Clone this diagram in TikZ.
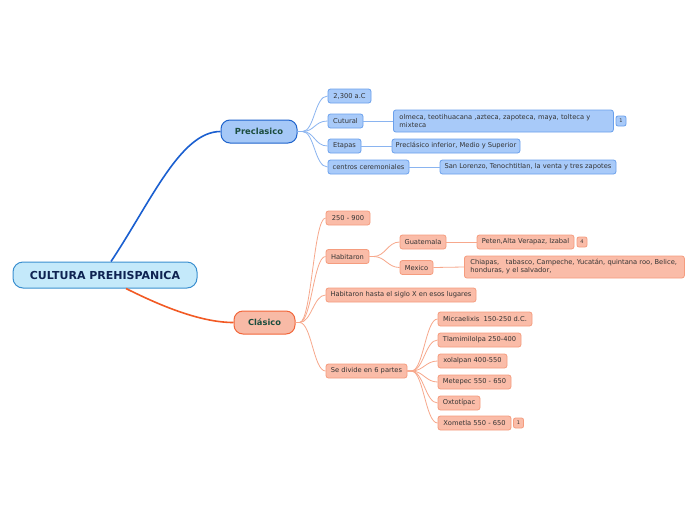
\documentclass[tikz,border=0pt]{standalone}
\usepackage{fontspec}
\setmainfont{DejaVu Sans}
\definecolor{rootfill}{HTML}{C4E9FA}
\definecolor{rootdraw}{HTML}{3A8FCF}
\definecolor{roottext}{HTML}{0F2352}
\definecolor{prefill}{HTML}{A5C8F7}
\definecolor{predraw}{HTML}{1E63CC}
\definecolor{bmain}{HTML}{1A5FD0}
\definecolor{bfill}{HTML}{A8CAF9}
\definecolor{bdraw}{HTML}{6AA0EC}
\definecolor{bline}{HTML}{8AB4F0}
\definecolor{clafill}{HTML}{F8BAA6}
\definecolor{cladraw}{HTML}{F2663A}
\definecolor{omain}{HTML}{F25A24}
\definecolor{ofill}{HTML}{FABCA8}
\definecolor{odraw}{HTML}{F59C7E}
\definecolor{oline}{HTML}{F7A88C}
\definecolor{txt}{HTML}{333333}
\definecolor{maintxt}{HTML}{1B4D3E}
\begin{document}
\begin{tikzpicture}[x=1pt,y=-1pt,
  box/.style={draw, rounded corners=2.5pt, line width=0.8pt, inner sep=0pt,
    font=\fontsize{6.7}{8}\selectfont, text=txt, minimum height=14pt},
  bbox/.style={box, fill=bfill, draw=bdraw},
  obox/.style={box, fill=ofill, draw=odraw},
  badge/.style={minimum width=10pt, minimum height=10pt, rounded corners=2pt,
    font=\fontsize{5}{5}\selectfont},
  ml/.style={anchor=west, align=left, inner xsep=6pt, minimum height=22pt},
  bl/.style={draw=bline, line width=0.8pt},
  ol/.style={draw=oline, line width=0.8pt},
  mainbox/.style={draw, line width=1pt, inner sep=0pt, text=maintxt,
    font=\fontsize{8.4}{10}\bfseries, rounded corners=9pt, minimum height=23pt}
]
\useasboundingbox[fill=white] (0,0) rectangle (696,520);

% root and main nodes
\node[draw=rootdraw, fill=rootfill, line width=1pt, rounded corners=10pt,
  minimum width=184pt, minimum height=26pt, text=roottext,
  font=\fontsize{11}{13}\bfseries] (root) at (105,275) {CULTURA PREHISPANICA};
\node[mainbox, fill=prefill, draw=predraw, minimum width=76pt] (pre) at (259,131.5) {Preclasico};
\node[mainbox, fill=clafill, draw=cladraw, minimum width=61pt, font=\fontsize{8.3}{10}\bfseries] (cla) at (264.5,322.5) {Clásico};

\draw[bmain, line width=1.6pt] ([xshift=6pt]root.north) .. controls +(40,-60) and +(-40,0) .. (pre.west);
\draw[omain, line width=1.6pt] ([xshift=21pt]root.south) .. controls +(30,15) and +(-35,0) .. (cla.west);

% Preclasico branch
\node[bbox, minimum width=43pt] (p1) at (349.5,96) {2,300 a.C};
\node[bbox, minimum width=35pt] (p2) at (345.5,121) {Cutural};
\node[bbox, minimum width=33pt] (p3) at (344.5,146) {Etapas};
\node[bbox, minimum width=81pt] (p4) at (368.5,167) {centros ceremoniales};
\node[bbox, ml, text width=208pt] (p2a) at (393,121) {olmeca, teotihuacana ,azteca, zapoteca, maya, tolteca y\\mixteca};
\node[bbox, badge] (p2b) at (621,121) {1};
\node[bbox, minimum width=128pt] (p3a) at (456,146) {Preclásico inferior, Medio y Superior};
\node[bbox, minimum width=176pt] (p4a) at (528,167) {San Lorenzo, Tenochtitlan, la venta y tres zapotes};

\foreach \c in {p1,p2,p3,p4}
  \draw[bl] (pre.east) -- ++(5,0) .. controls +(12,0) and +(-13,0) .. (\c.west);
\draw[bl] (p2.east) -- (p2a.west);
\draw[bl] (p3.east) -- (p3a.west);
\draw[bl] (p4.east) -- (p4a.west);

% Clasico branch
\node[obox, minimum width=44pt] (c1) at (348,218) {250 - 900};
\node[obox, minimum width=43pt] (c2) at (347.5,256.5) {Habitaron};
\node[obox, minimum width=150pt] (c3) at (401,295) {Habitaron hasta el siglo X en esos lugares};
\node[obox, minimum width=81pt] (c4) at (366.5,371) {Se divide en 6 partes};

\node[obox, minimum width=46pt] (g) at (423,242) {Guatemala};
\node[obox, minimum width=33pt] (m) at (416.5,267.5) {Mexico};
\node[obox, minimum width=97pt] (ga) at (525.5,242) {Peten,Alta Verapaz, Izabal};
\node[obox, badge] (gb) at (582,242) {4};
\node[obox, ml, text width=208pt] (ma) at (464,267) {Chiapas,\ \ \ tabasco, Campeche, Yucatán, quintana roo, Belice,\\honduras, y el salvador,};

\node[obox, minimum width=94pt] (s1) at (485,319) {Miccaelixis\ \ 150-250 d.C.};
\node[obox, minimum width=83pt] (s2) at (479.5,340) {Tlamimilolpa 250-400};
\node[obox, minimum width=69pt] (s3) at (472.5,361) {xolalpan 400-550};
\node[obox, minimum width=73pt] (s4) at (474.5,382) {Metepec 550 - 650};
\node[obox, minimum width=42pt] (s5) at (459,403) {Oxtotípac};
\node[obox, minimum width=73pt] (s6) at (474.5,423) {Xometla 550 - 650};
\node[obox, badge] (sb) at (518.5,423) {1};

\foreach \c in {c1,c2,c3,c4}
  \draw[ol] (cla.east) -- ++(4,0) .. controls +(12,0) and +(-12,0) .. (\c.west);
\foreach \c in {g,m}
  \draw[ol] (c2.east) -- ++(4,0) .. controls +(12,0) and +(-12,0) .. (\c.west);
\foreach \c in {s1,s2,s3,s4,s5,s6}
  \draw[ol] (c4.east) -- ++(4,0) .. controls +(12,0) and +(-12,0) .. (\c.west);
\draw[ol] (g.east) -- (ga.west);
\draw[ol] (m.east) -- (ma.west);
\end{tikzpicture}
\end{document}
